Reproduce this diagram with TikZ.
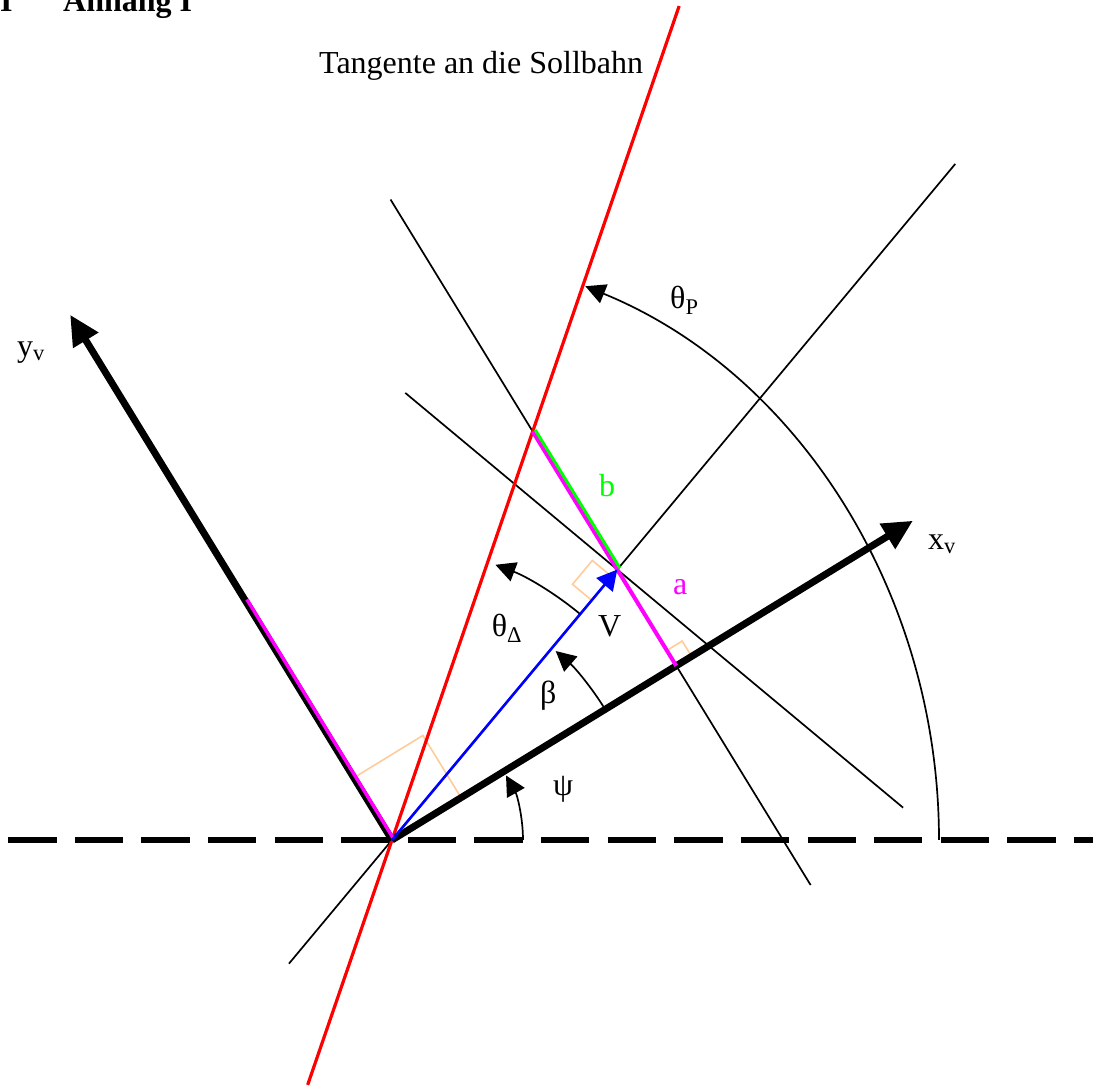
\documentclass[tikz,border=0pt]{standalone}
\usepackage{fontspec}
\setmainfont{Liberation Serif}
\usetikzlibrary{arrows.meta, calc}

\definecolor{anglepeach}{RGB}{255,204,153}
\definecolor{devmagenta}{RGB}{255,0,255}
\definecolor{devgreen}{RGB}{0,255,0}
\definecolor{devred}{RGB}{255,0,0}
\definecolor{devblue}{RGB}{0,0,255}

\begin{document}
\begin{tikzpicture}[
    x=1pt, y=1pt,
    font=\fontsize{32}{38}\selectfont,
    axis/.style = {draw, line width=7pt, -{Triangle[length=30pt, width=28pt]}},
    thin_line/.style = {draw, line width=1.7pt},
    tangent_line/.style = {draw, devred, line width=3.2pt},
    ref_line/.style = {draw, line width=6pt, dash pattern=on 48.3pt off 18.3pt},
    angle_arc/.style = {draw, line width=1.7pt, -{Triangle[length=20pt, width=20pt]}},
    right_angle/.style = {draw=anglepeach, line width=1.6pt},
    label_text/.style = {inner sep=0pt, anchor=base west}
]
\useasboundingbox (-392,-249) rectangle (701,840);

% Points
\coordinate (O) at (0,0);
\coordinate (xv_tip) at (31.5:611);
\coordinate (yv_tip) at (121.5:616);
\coordinate (P) at (50.2:352);
\coordinate (F) at ($(O)!(P)!(xv_tip)$);
\coordinate (tan_top) at (71:882);
\coordinate (tan_bot) at (251:259);
\coordinate (ylat_top) at ($(P)+(121.5:434)$);
\coordinate (ylat_bot) at ($(P)+(301.5:370)$);
\coordinate (perp_top) at ($(P)+(140.2:276)$);
\coordinate (perp_bot) at ($(P)+(320.2:372)$);
\coordinate (vline_top) at (50.2:880);
\coordinate (vline_bot) at (230.2:161);
\coordinate (hl_left) at (-383.7,0);
\coordinate (hl_right) at (701,0);
\coordinate (Q) at (intersection of P--ylat_top and O--tan_top);
\coordinate (ymag_end) at (121.5:281);
\coordinate (ra_P) at (50.2:343);

% Right angles
\draw[right_angle] (O) -- ++(31.5:81) -- ++(121.5:73) -- ++(211.5:81) -- cycle;
\draw[right_angle] (ra_P) -- ++(230.2:31) -- ++(140.2:25) -- ++(50.2:31) -- cycle;
\draw[right_angle] (F) -- ++(31.5:18) -- ++(121.5:18) -- ++(211.5:18) -- cycle;

% Construction lines
\path[thin_line] (ylat_top) -- (ylat_bot);
\path[thin_line] (perp_top) -- (perp_bot);
\path[thin_line] (vline_bot) -- (vline_top);
\path[ref_line] (hl_left) -- (hl_right);
\path[tangent_line] (tan_bot) -- (tan_top);

% Vehicle axes
\path[axis] (O) -- (xv_tip);
\path[axis] (O) -- (yv_tip);

% Deviations
\draw[devmagenta, line width=3.5pt] ($(O)+(31.5:2)$) -- ($(ymag_end)+(31.5:2)$);
\draw[devmagenta, line width=4pt] (Q) -- (F);
\draw[devgreen, line width=3pt] ($(Q)+(31.5:3)$) -- ($(P)+(31.5:3)$);
\draw[devblue, line width=2.6pt, -{Triangle[length=20pt, width=21pt]}] (O) -- (P);

% Angles
\path[angle_arc] (131,0) arc[start angle=0, end angle=29.5, radius=131pt];
\path[angle_arc] (31.5:250) arc[start angle=31.5, end angle=49.1, radius=250pt];
\path[angle_arc] (50.2:294) arc[start angle=50.2, end angle=69.4, radius=294pt];
\path[angle_arc] (547,0) arc[start angle=0, end angle=69.3, x radius=547pt, y radius=592pt];

% Labels
\node[label_text] (head_num) at (-392,828) {\bfseries I};
\node[label_text] (head_title) at (-329,828) {\bfseries Anhang I};
\node[label_text] (tan_label) at (-73,766.7) {Tangente an die Sollbahn};
\node[label_text] (yv_label) at (-375,483.6) {y\textsubscript{v}};
\node[label_text] (xv_label) at (536,290.6) {x\textsubscript{v}};
\node[label_text] (thetaP_label) at (278,531.4) {θ\textsubscript{P}};
\node[label_text, text=devgreen] (b_label) at (207,343) {b};
\node[label_text, text=devmagenta] (a_label) at (281,245) {a};
\node[label_text] (v_label) at (206,203) {V};
\node[label_text] (thetaD_label) at (99.7,203.4) {θ\textsubscript{Δ}};
\node[label_text] (beta_label) at (148,136.2) {β};
\node[label_text] (psi_label) at (161,44) {ψ};

\end{tikzpicture}
\end{document}
